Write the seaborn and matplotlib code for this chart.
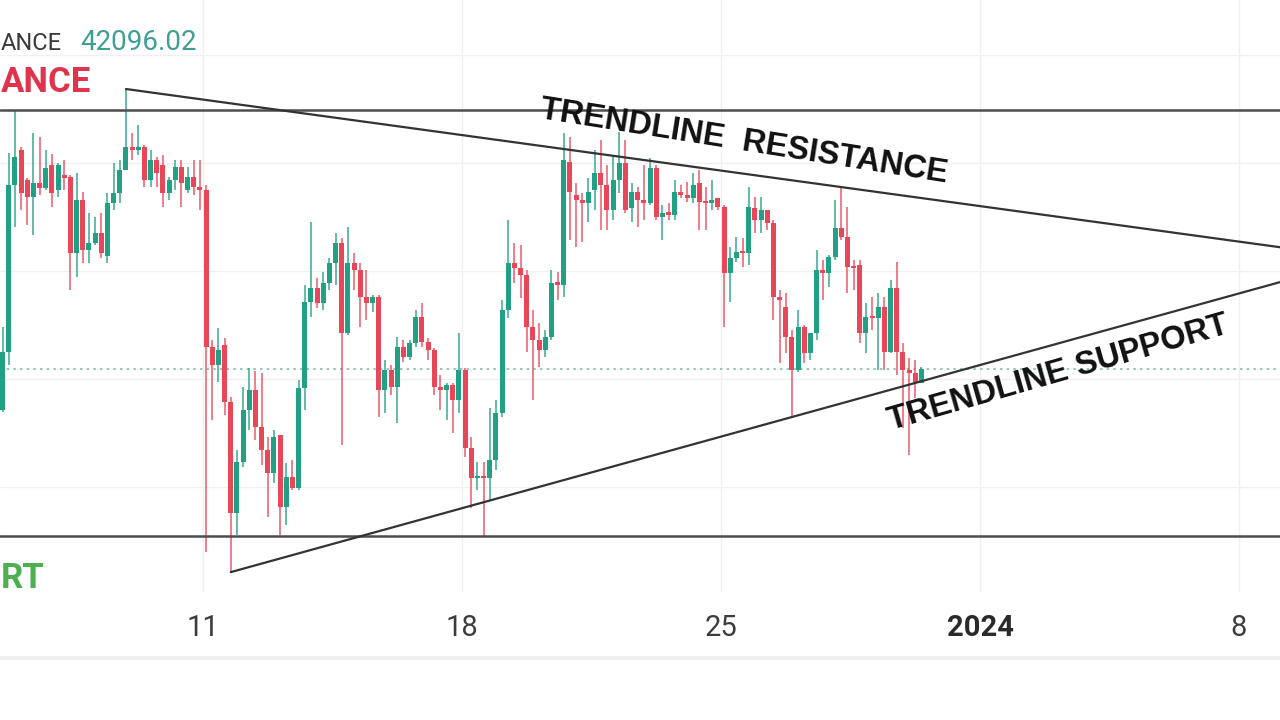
import datetime as dt
import numpy as np
import pandas as pd
import matplotlib
matplotlib.use('Agg')
import matplotlib.pyplot as plt
import matplotlib.dates as mdates
from matplotlib.lines import Line2D
import seaborn as sns

sns.set_theme(style='white')
plt.rcParams['font.family'] = ['Roboto', 'DejaVu Sans']

# 4h candles, BTCUSDT
start = dt.datetime(2023, 12, 5, 10)
opens = [41499, 41712, 42249, 43796, 44120, 43842, 43685, 43815, 43768, 43981,
         43750, 43889, 43870, 43166, 43657, 43194, 43259, 43351, 43138, 43629,
         43722, 43935, 44148, 44120, 44148, 43842, 44027, 43981, 43722, 43842,
         43963, 43750, 43870, 43777, 43750, 42296, 42129, 42314, 41786, 40759,
         41231, 41712, 41898, 41555, 41342, 41129, 41481, 40814, 41092, 40990,
         41916, 42712, 42842, 42703, 42888, 43074, 43259, 42425, 43074, 43009,
         42759, 42703, 42759, 41898, 42083, 41925, 42296, 42203, 42333, 42574,
         42342, 42268, 41925, 41898, 41944, 41805, 42083, 41361, 41083, 41101,
         41083, 41249, 41685, 42638, 43074, 43027, 42962, 42481, 42361, 42268,
         42388, 42898, 42870, 44009, 43703, 43657, 43629, 43750, 43907, 43796,
         43564, 43842, 44000, 43583, 43731, 43657, 43629, 43953, 43500, 43546,
         43518, 43731, 43703, 43676, 43815, 43638, 43629, 43676, 43592, 42981,
         43120, 43175, 43166, 43583, 43472, 43564, 43444, 42759, 42666, 42388,
         42083, 42481, 42240, 42425, 43009, 42981, 43129, 43398, 43314, 43037,
         43055, 42425, 42574, 42564, 42666, 42249, 42842, 42249, 42083, 42055,
         41962]
highs = [41759, 42481, 44092, 44490, 44148, 43861, 44277, 44240, 44120, 44083,
         44000, 44027, 43889, 43907, 43731, 43537, 43500, 43537, 43722, 44000,
         44027, 44685, 44277, 44351, 44166, 44120, 44055, 44074, 43870, 44027,
         44027, 43963, 44027, 44027, 43796, 42361, 42472, 42379, 41833, 41342,
         41925, 42101, 42073, 42055, 41462, 41527, 41481, 41222, 41249, 41990,
         42870, 43453, 42935, 42990, 43120, 43351, 43305, 43407, 43166, 43074,
         43009, 42777, 42777, 42175, 42129, 42388, 42361, 42361, 42638, 42703,
         42379, 42287, 42036, 41962, 41962, 42425, 42101, 41462, 41231, 41231,
         41731, 41805, 42731, 43472, 43259, 43240, 43009, 42638, 42518, 42453,
         43009, 42990, 44277, 44240, 43815, 43722, 43861, 44120, 44213, 43981,
         44074, 44287, 44213, 43815, 43777, 43981, 44046, 43981, 43611, 43629,
         43842, 43796, 43824, 43907, 43935, 43777, 43842, 43676, 43611, 43222,
         43314, 43305, 43777, 43685, 43685, 43564, 43472, 42824, 42796, 42453,
         42638, 42499, 42425, 43194, 43101, 43148, 43657, 43777, 43592, 43101,
         43101, 42703, 42759, 42796, 42759, 42916, 43083, 42333, 42194, 42175,
         42111]
lows = [41435, 41694, 42129, 43407, 43564, 43426, 43333, 43703, 43750, 43592,
        43685, 43750, 42824, 42944, 43074, 43074, 43240, 43120, 43074, 43564,
        43629, 43935, 44027, 44074, 43777, 43777, 43777, 43592, 43657, 43750,
        43592, 43722, 43703, 43564, 40398, 41620, 41972, 41666, 40212, 40555,
        41185, 41527, 41435, 41203, 40722, 41036, 40555, 40647, 40972, 40972,
        41712, 42574, 42657, 42638, 42824, 42870, 41388, 42407, 42824, 42481,
        42546, 42620, 41648, 41685, 41851, 41592, 42157, 42175, 42296, 42296,
        42175, 41851, 41712, 41620, 41499, 41685, 41277, 40805, 40972, 40536,
        40879, 41157, 41648, 42564, 42888, 42750, 42249, 41805, 42111, 42203,
        42361, 42731, 42759, 43287, 43222, 43268, 43453, 43564, 43379, 43379,
        43472, 43722, 43537, 43453, 43407, 43472, 43611, 43472, 43287, 43472,
        43472, 43676, 43638, 43629, 43379, 43379, 43564, 43564, 42481, 42712,
        43083, 43037, 43055, 43351, 43351, 43379, 42546, 42148, 42240, 41648,
        42064, 42148, 42175, 42361, 42731, 42851, 43101, 43287, 42796, 42824,
        42333, 42240, 42453, 42083, 42083, 42240, 42036, 41546, 41296, 41823,
        41962]
closes = [41712, 42249, 43796, 44055, 43722, 43685, 43815, 43768, 43953, 43722,
          43981, 43861, 43166, 43657, 43194, 43259, 43351, 43166, 43629, 43722,
          43935, 44148, 44120, 44148, 43842, 44027, 43907, 43722, 43842, 43963,
          43815, 43870, 43777, 43750, 42296, 42129, 42268, 41786, 40759, 41231,
          41712, 41898, 41555, 41342, 41129, 41462, 40814, 41092, 40990, 41916,
          42712, 42842, 42703, 42888, 43074, 43259, 42425, 43074, 43009, 42759,
          42703, 42759, 41898, 42083, 41925, 42296, 42203, 42333, 42574, 42342,
          42268, 41925, 41898, 41944, 41805, 42083, 41361, 41083, 41101, 41083,
          41249, 41685, 42638, 43074, 43027, 42962, 42481, 42361, 42268, 42388,
          42888, 42870, 44027, 43731, 43657, 43629, 43731, 43907, 43796, 43564,
          43842, 44000, 43564, 43731, 43657, 43629, 43953, 43500, 43537, 43518,
          43731, 43703, 43676, 43796, 43638, 43629, 43657, 43592, 42981, 43120,
          43175, 43166, 43592, 43472, 43564, 43444, 42759, 42731, 42388, 42083,
          42481, 42240, 42425, 43009, 42981, 43129, 43398, 43314, 43037, 43027,
          42425, 42574, 42564, 42666, 42249, 42842, 42249, 42083, 42055, 41962,
          42096.02]

last_price = 42096.02
resistance_level = 44490
support_level = 40550
res_anchor = (21, 137)   # candle highs the falling trendline runs through
sup_anchor = (38, 129)   # candle lows the rising trendline runs through
tick_dates = [dt.datetime(2023, 12, 11), dt.datetime(2023, 12, 18), dt.datetime(2023, 12, 25),
              dt.datetime(2024, 1, 1), dt.datetime(2024, 1, 8)]
tick_labels = ['11', '18', '25', '2024', '8']

up_col = '#22a083'
down_col = '#e8475a'

df = pd.DataFrame({'time': [start + dt.timedelta(hours=4 * i) for i in range(len(opens))],
                   'open': opens, 'high': highs, 'low': lows, 'close': closes})
df['x'] = mdates.date2num(df['time'])
df['color'] = np.where(df['close'] >= df['open'], up_col, down_col)

fig = plt.figure(figsize=(12.8, 7.2), dpi=100)
fig.patch.set_facecolor('white')
ax = fig.add_axes([0, 128 / 720, 1, 592 / 720])

d11 = mdates.date2num(tick_dates[0])
ax.set_xlim(d11 - 203 / 37, d11 + 1077 / 37)
ax.set_ylim(40028, 45509)

# faint grid
ax.set_yticks(range(41000, 45001, 1000))
ax.set_yticklabels([])
ax.set_xticks(mdates.date2num(tick_dates))
ax.set_xticklabels(tick_labels)
ax.tick_params(axis='both', length=0)
ax.tick_params(axis='x', pad=16, labelsize=21, labelcolor='#3c3c3c')
for lab in ax.get_xticklabels():
    if lab.get_text() == '2024':
        lab.set_fontweight('bold')
        lab.set_color('#2a2a2a')
ax.grid(True, color='#f0f0f0', lw=1)
ax.set_axisbelow(True)
sns.despine(ax=ax, left=True, bottom=True)

# current price line
ax.axhline(last_price, color='#86bbb2', lw=1.2, ls=(0, (1.5, 2.5)), zorder=1)

# candles
ax.vlines(df['x'], df['low'], df['high'], colors=df['color'], lw=1.4, alpha=0.7, zorder=2)
body = np.maximum((df['close'] - df['open']).abs(), 18)
ax.bar(df['x'], body, bottom=np.minimum(df['open'], df['close']), width=0.135,
       color=df['color'], linewidth=0, zorder=3)

# horizontal levels
ax.axhline(resistance_level, color='#4d4d4d', lw=1.8, zorder=4)
ax.axhline(support_level, color='#4d4d4d', lw=1.8, zorder=4)

# trendlines, extended to the right edge
x_end = ax.get_xlim()[1]
def trend(i, j, vals):
    xs = df['x'].values
    slope = (vals[j] - vals[i]) / (xs[j] - xs[i])
    return [xs[i], x_end], [vals[i], vals[i] + slope * (x_end - xs[i])]

rx, ry = trend(*res_anchor, df['high'].values)
sx, sy = trend(*sup_anchor, df['low'].values)
sns.lineplot(x=rx, y=ry, color='#333333', lw=1.6, ax=ax, estimator=None, sort=False, zorder=5)
sns.lineplot(x=sx, y=sy, color='#333333', lw=1.6, ax=ax, estimator=None, sort=False, zorder=5)

ax.text(0.581, 0.760, 'TRENDLINE  RESISTANCE', transform=ax.transAxes, rotation=-9,
        rotation_mode='anchor', ha='center', va='center', fontsize=23.5,
        fontweight='bold', family=['Liberation Sans', 'DejaVu Sans'], color='#111111', zorder=6)
ax.text(0.8266, 0.370, 'TRENDLINE SUPPORT', transform=ax.transAxes, rotation=16,
        rotation_mode='anchor', ha='center', va='center', fontsize=23.5,
        fontweight='bold', family=['Liberation Sans', 'DejaVu Sans'], color='#111111', zorder=6)

# legend / labels, only the parts left visible by the screenshot crop
fig.text(1 / 1280, 1 - 50 / 720, 'ANCE', ha='left', va='baseline', fontsize=17, color='#3a3a3a')
fig.text(80 / 1280, 1 - 50 / 720, f'{last_price:.2f}', ha='left', va='baseline', fontsize=20, color='#3f9f95')
fig.text(1 / 1280, 1 - 92 / 720, 'ANCE', ha='left', va='baseline', fontsize=25,
         fontweight='bold', color='#e0344e')
fig.text(1 / 1280, 1 - 588 / 720, 'RT', ha='left', va='baseline', fontsize=25,
         fontweight='bold', color='#4caf50')

fig.add_artist(Line2D([0, 1], [1 - 658 / 720] * 2, color='#f0f0f0', lw=3, transform=fig.transFigure))

fig.savefig('out.png', dpi=100)
